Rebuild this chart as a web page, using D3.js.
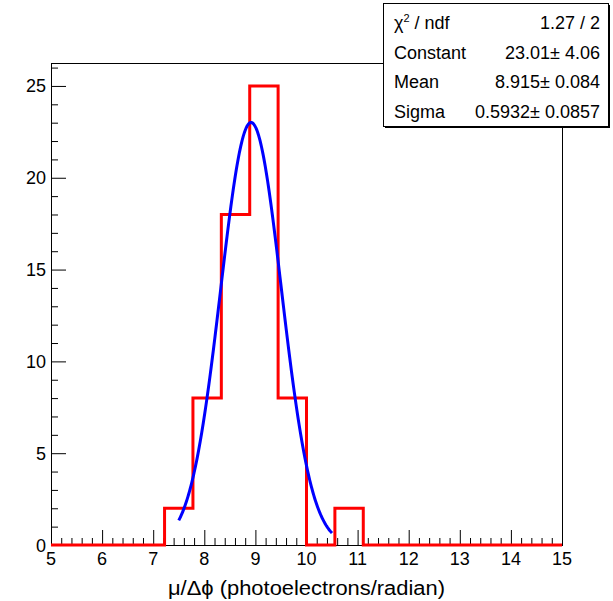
<!DOCTYPE html>
<html>
<head>
<meta charset="utf-8">
<script src="https://cdn.jsdelivr.net/npm/d3@7"></script>
<style>
  html, body { margin: 0; padding: 0; background: #fff; }
  svg { display: block; font-family: "Liberation Sans", Arial, Helvetica, sans-serif; }
</style>
</head>
<body>
<svg id="chart" width="613" height="601"></svg>
<script>
// ---- data ----
const xRange = [5, 15];
const nBins = 18;
const counts = [0, 0, 0, 0, 2, 8, 18, 25, 8, 0, 2, 0, 0, 0, 0, 0, 0, 0];
const xTicks = [5, 6, 7, 8, 9, 10, 11, 12, 13, 14, 15];
const yTicks = [0, 5, 10, 15, 20, 25];
const yMax = 26.25;
const fitConstant = 23.01;
const fitMean = 8.915;
const fitSigma = 0.5932;
const fitRange = [7.5, 10.5];
const statLabels = ["χ2 / ndf", "Constant", "Mean", "Sigma"];
const statValues = ["1.27 / 2", "23.01± 4.06", "8.915± 0.084", "0.5932± 0.0857"];
const xTitle = "μ/Δϕ (photoelectrons/radian)";

// ---- layout ----
const L = 51, R = 562, T = 63, B = 545;
const svg = d3.select("#chart");
const x = d3.scaleLinear().domain(xRange).range([L, R]);
const y = d3.scaleLinear().domain([0, yMax]).range([B, T]);

// frame
svg.append("rect").attr("x", L + 0.5).attr("y", T + 0.5).attr("width", R - L).attr("height", B - T)
  .attr("fill", "none").attr("stroke", "#000").attr("stroke-width", 1);

// axes (ticks inside frame)
svg.append("g").attr("transform", `translate(0,${B})`)
  .call(d3.axisTop(x).tickValues(xTicks).tickSize(15).tickFormat(""))
  .call(g => g.select(".domain").remove());
const xMinor = d3.range(5, 15.0001, 0.2).filter(v => Math.abs(v - Math.round(v)) > 1e-6);
svg.append("g").attr("transform", `translate(0,${B})`)
  .call(d3.axisTop(x).tickValues(xMinor).tickSize(7).tickFormat(""))
  .call(g => g.select(".domain").remove());

svg.append("g").attr("transform", `translate(${L},0)`)
  .call(d3.axisRight(y).tickValues(yTicks).tickSize(15).tickFormat(""))
  .call(g => g.select(".domain").remove());
const yMinor = d3.range(0, 26.001, 1).filter(v => v % 5 !== 0);
svg.append("g").attr("transform", `translate(${L},0)`)
  .call(d3.axisRight(y).tickValues(yMinor).tickSize(7).tickFormat(""))
  .call(g => g.select(".domain").remove());
svg.selectAll(".tick line").attr("stroke", "#000").attr("stroke-width", 1);

// tick labels
svg.append("g").selectAll("text").data(xTicks).join("text")
  .attr("x", d => x(d)).attr("y", 565)
  .attr("text-anchor", "middle").attr("font-size", 18).text(d => d);
svg.append("g").selectAll("text").data(yTicks).join("text")
  .attr("x", 46).attr("y", d => y(d) + 6.5)
  .attr("text-anchor", "end").attr("font-size", 18).text(d => d);

// x title
svg.append("text").attr("x", 168).attr("y", 595)
  .attr("font-size", 20).attr("textLength", 277).attr("lengthAdjust", "spacingAndGlyphs")
  .text(xTitle);

// histogram
const binW = (xRange[1] - xRange[0]) / nBins;
const pts = counts.map((c, i) => [xRange[0] + i * binW, c]);
pts.push([xRange[1], counts[counts.length - 1]]);
svg.append("path").datum(pts)
  .attr("d", d3.line().x(d => x(d[0])).y(d => y(d[1])).curve(d3.curveStepAfter))
  .attr("fill", "none").attr("stroke", "#ff0000").attr("stroke-width", 3);

// fit curve
const gaus = v => fitConstant * Math.exp(-0.5 * Math.pow((v - fitMean) / fitSigma, 2));
const fitPts = d3.range(0, 201).map(i => {
  const v = fitRange[0] + (fitRange[1] - fitRange[0]) * i / 200;
  return [v, gaus(v)];
});
svg.append("path").datum(fitPts)
  .attr("d", d3.line().x(d => x(d[0])).y(d => y(d[1])))
  .attr("fill", "none").attr("stroke", "#0000ff").attr("stroke-width", 3);

// stats box
const bx = 383, by = 3, bw = 225, bh = 123;
svg.append("rect").attr("x", bx + 2).attr("y", by + 2).attr("width", bw).attr("height", bh).attr("fill", "#000");
svg.append("rect").attr("x", bx + 0.5).attr("y", by + 0.5).attr("width", bw).attr("height", bh)
  .attr("fill", "#fff").attr("stroke", "#000").attr("stroke-width", 1);
const rowY = [28.5, 58.5, 88, 118];
const sg = svg.append("g").attr("font-size", 18);
statLabels.forEach((lab, i) => {
  const t = sg.append("text").attr("x", 394).attr("y", rowY[i]);
  if (i === 0) {
    t.append("tspan").text("χ");
    t.append("tspan").attr("font-size", 11).attr("dy", -7).text("2");
    t.append("tspan").attr("dy", 7).text(" / ndf");
  } else {
    t.text(lab);
  }
  sg.append("text").attr("x", 600).attr("y", rowY[i]).attr("text-anchor", "end").text(statValues[i]);
});
</script>
</body>
</html>
